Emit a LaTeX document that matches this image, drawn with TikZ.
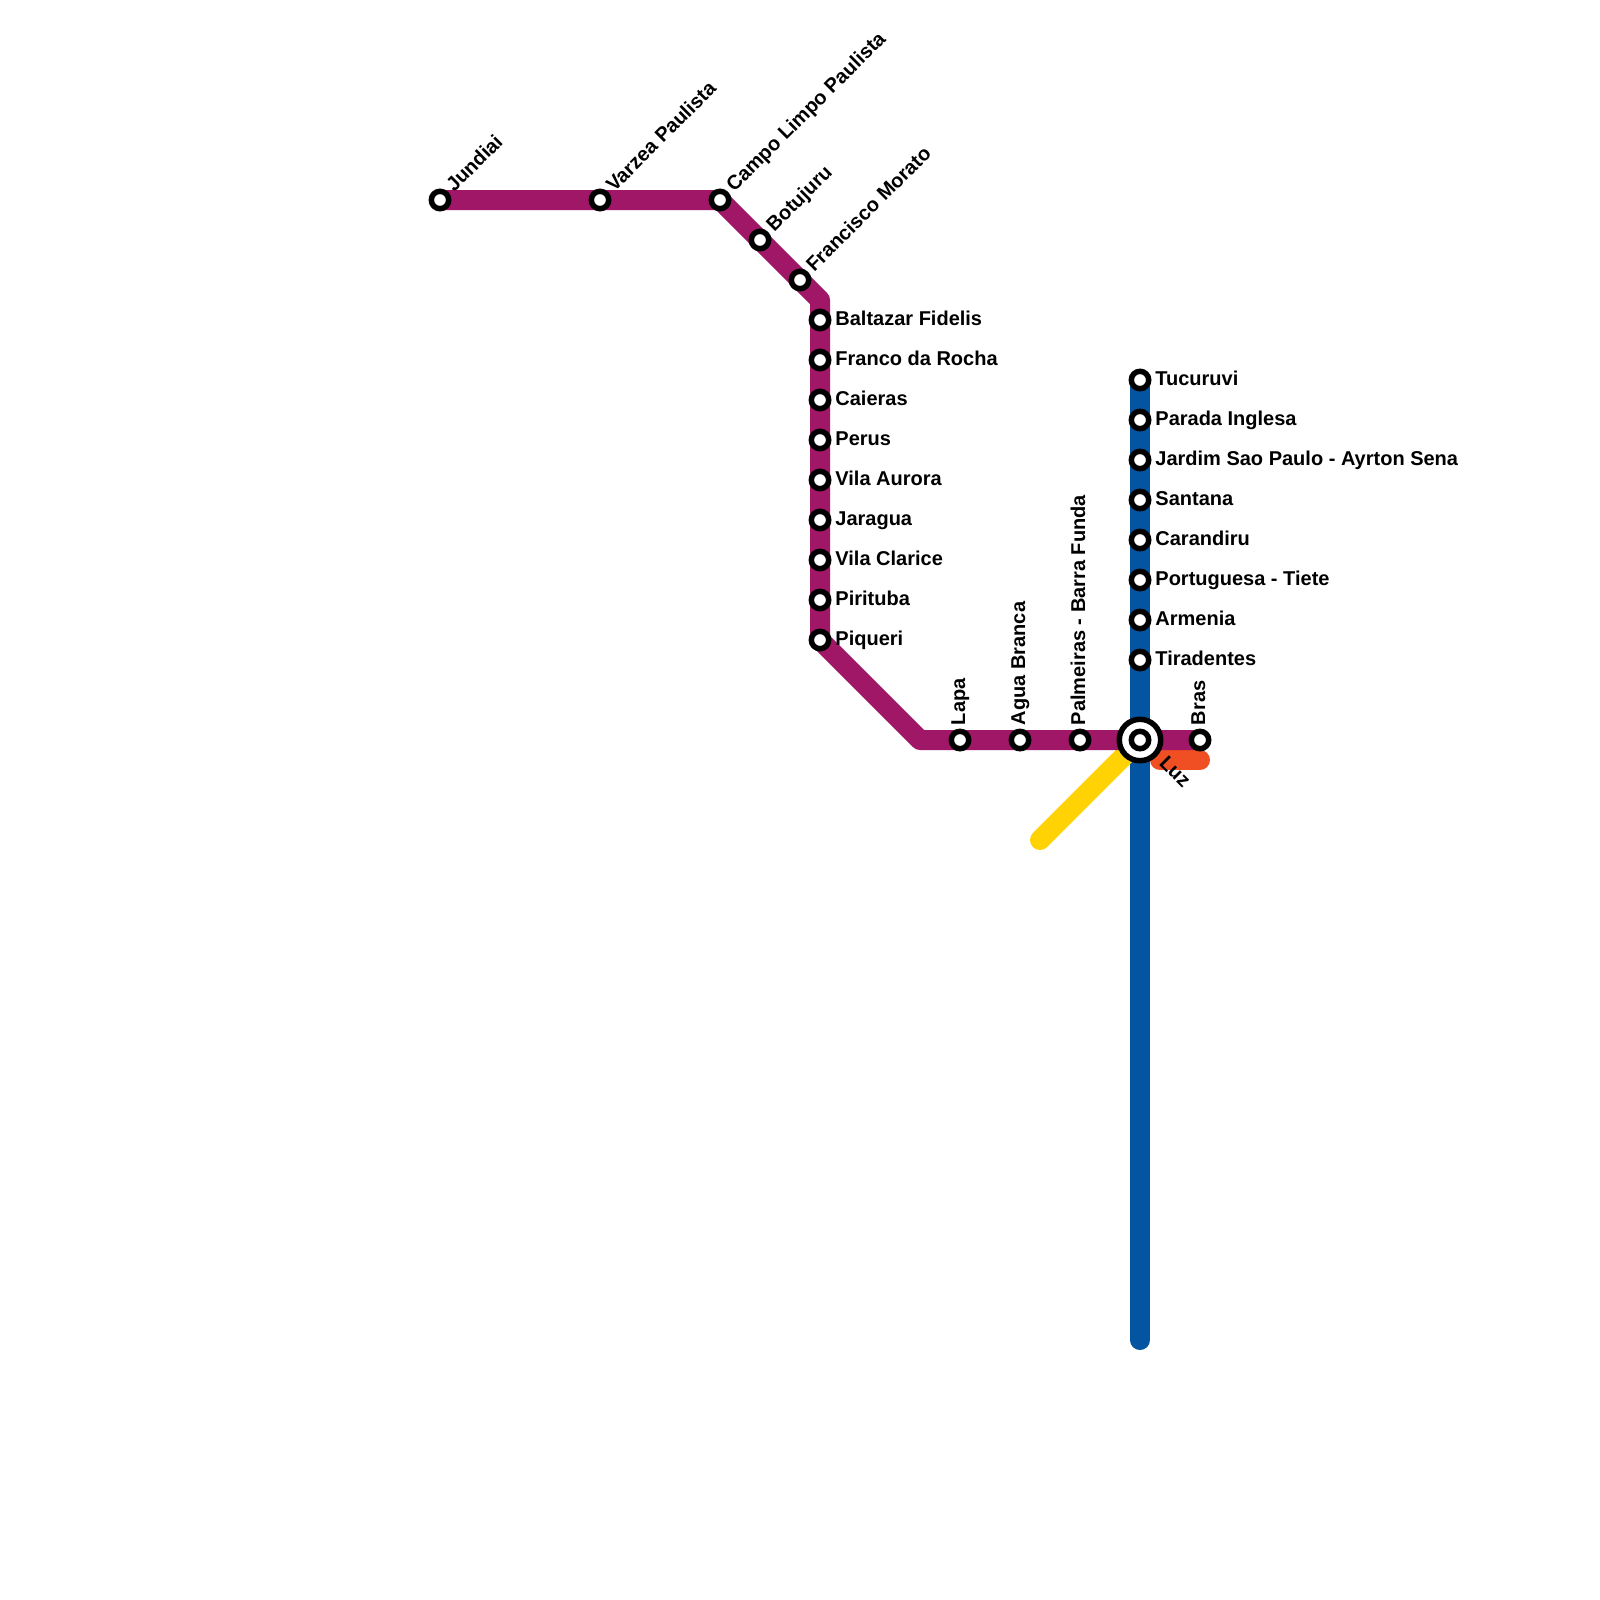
\documentclass[tikz,border=0pt]{standalone}
\usepackage{fontspec}
\setmainfont{Liberation Sans}[BoldFont={Liberation Sans Bold}]
\usetikzlibrary{backgrounds}
\definecolor{lpurple}{HTML}{9F1766}
\definecolor{lblue}{HTML}{0455A1}
\definecolor{lyellow}{HTML}{FFD204}
\definecolor{lorange}{HTML}{F04E23}
\tikzset{
 stn/.style={circle,draw=black,fill=white,line width=2.75pt,minimum size=8.7pt,inner sep=0pt,outer sep=0pt},
 hub/.style={circle,draw=black,fill=white,line width=2.75pt,minimum size=20.7pt,inner sep=0pt,outer sep=0pt},
 txt/.style={font=\fontsize{10}{12}\selectfont\bfseries,inner sep=0pt,text=black},
 lr/.style={txt,anchor=base west},
 ld/.style={txt,anchor=base west,rotate=45},
 lu/.style={txt,anchor=base west,rotate=90},
 ls/.style={txt,anchor=base west,rotate=-45},
 route/.style={line width=10pt,line cap=round,line join=round}
}
\begin{document}
\begin{tikzpicture}[x=0.5pt,y=-0.5pt]
\useasboundingbox (0,0) rectangle (1600,1600);
% stations
\node[stn] (jun) at (440,200) {};
\node[stn] (var) at (600,200) {};
\node[stn] (cam) at (720,200) {};
\node[stn] (bot) at (760,240) {};
\node[stn] (fra) at (800,280) {};
\node[stn] (bal) at (820,320) {};
\node[stn] (fro) at (820,360) {};
\node[stn] (cai) at (820,400) {};
\node[stn] (per) at (820,440) {};
\node[stn] (vau) at (820,480) {};
\node[stn] (jar) at (820,520) {};
\node[stn] (vcl) at (820,560) {};
\node[stn] (pir) at (820,600) {};
\node[stn] (piq) at (820,640) {};
\node[stn] (lap) at (960,740) {};
\node[stn] (agu) at (1020,740) {};
\node[stn] (pal) at (1080,740) {};
\node[stn] (bra) at (1200,740) {};
\node[stn] (tuc) at (1140,380) {};
\node[stn] (par) at (1140,420) {};
\node[stn] (jsp) at (1140,460) {};
\node[stn] (san) at (1140,500) {};
\node[stn] (car) at (1140,540) {};
\node[stn] (por) at (1140,580) {};
\node[stn] (arm) at (1140,620) {};
\node[stn] (tir) at (1140,660) {};
\node[hub] (luz) at (1140,740) {};
\node[stn] (luzi) at (1140,740) {};
\coordinate (k1) at (820,300);
\coordinate (k2) at (920,740);
\coordinate (bluend) at (1140,1340);
\coordinate (yelend) at (1040,840);
\coordinate (ora) at (1160,760);
\coordinate (orb) at (1200,760);
% lines
\begin{scope}[on background layer]
\fill[white] (0,0) rectangle (1600,1600);
\draw[route,lorange] (ora) -- (orb);
\draw[route,lblue,line cap=butt] (tuc.center) -- (luz.center);
\draw[route,lblue] (luz.center) -- (bluend);
\draw[route,lyellow] (luz.center) -- (yelend);
\draw[route,lpurple,line cap=butt,line join=round] (jun.center) -- (cam.center) -- (k1) -- (piq.center) -- (k2) -- (bra.center);
\end{scope}
% labels
\node[ld] (tjun) at (454,193) {Jundiai};
\node[ld] (tvar) at (614,193) {Varzea Paulista};
\node[ld] (tcam) at (734,193) {Campo Limpo Paulista};
\node[ld] (tbot) at (774,233) {Botujuru};
\node[ld] (tfra) at (814,273) {Francisco Morato};
\node[lr] (tbal) at (835,325) {Baltazar Fidelis};
\node[lr] (tfro) at (835,365) {Franco da Rocha};
\node[lr] (tcai) at (835,405) {Caieras};
\node[lr] (tper) at (835,445) {Perus};
\node[lr] (tvau) at (835,485) {Vila Aurora};
\node[lr] (tjar) at (835,525) {Jaragua};
\node[lr] (tvcl) at (835,565) {Vila Clarice};
\node[lr] (tpir) at (835,605) {Pirituba};
\node[lr] (tpiq) at (835,645) {Piqueri};
\node[lu] (tlap) at (965,725.5) {Lapa};
\node[lu] (tagu) at (1025,725.5) {Agua Branca};
\node[lu] (tpal) at (1085,725.5) {Palmeiras - Barra Funda};
\node[lu] (tbra) at (1205,725.5) {Bras};
\node[ls] (tluz) at (1158,764) {Luz};
\node[lr] (ttuc) at (1155,385) {Tucuruvi};
\node[lr] (tpar) at (1155,425) {Parada Inglesa};
\node[lr] (tjsp) at (1155,465) {Jardim Sao Paulo - Ayrton Sena};
\node[lr] (tsan) at (1155,505) {Santana};
\node[lr] (tcar) at (1155,545) {Carandiru};
\node[lr] (tpor) at (1155,585) {Portuguesa - Tiete};
\node[lr] (tarm) at (1155,625) {Armenia};
\node[lr] (ttir) at (1155,665) {Tiradentes};
\end{tikzpicture}
\end{document}
